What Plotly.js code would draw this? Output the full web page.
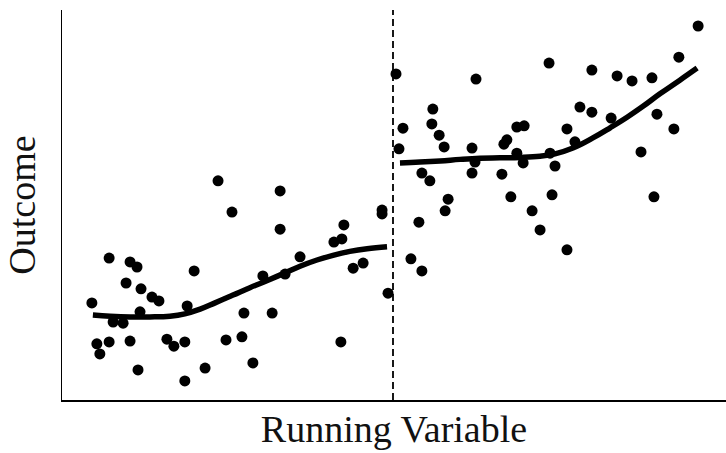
<!DOCTYPE html>
<html>
<head>
<meta charset="utf-8">
<script src="https://cdn.plot.ly/plotly-3.0.1.min.js"></script>
<style>html,body{margin:0;padding:0;background:#fff;}#chart{width:726px;height:453px;}</style>
</head>
<body>
<div id="chart"></div>
<script>
// Observations left of the cutoff
const leftX = [-90.7,-89.2,-88.3,-85.5,-85.5,-84.3,-81.3,-80.4,-79.2,-77.1,-79.2,-76.8,-76.2,-75.9,-72.6,-70.5,-68.1,-66.0,-62.7,-62.7,-62.0,-59.9,-56.6,-52.7,-48.5,-50.3,-45.5,-44.9,-42.2,-39.2,-36.4,-34.0,-34.0,-32.5,-28.0,-17.8,-15.4,-14.8,-15.7,-12.0,-9.0,-3.3,-3.3,-1.5];
const leftY = [24.9,14.4,11.8,36.4,14.9,20.0,19.7,30.0,35.4,34.1,15.1,7.7,22.6,28.5,26.4,25.4,15.6,13.8,14.9,4.9,24.1,33.1,8.2,56.2,48.2,15.4,16.2,22.3,9.5,31.8,22.3,53.6,43.8,32.3,36.7,40.5,41.3,44.9,14.9,33.8,35.1,48.7,47.7,27.4];

// Observations right of the cutoff
const rightX = [0.9,1.8,3.0,5.4,7.8,8.7,8.7,11.1,11.7,12.0,13.9,15.4,15.7,16.6,23.8,23.8,25.0,24.7,32.8,33.4,34.3,35.5,37.3,39.5,37.3,39.2,41.9,44.3,47.0,47.3,47.9,48.8,52.4,52.4,54.8,56.3,59.9,59.9,65.7,67.5,72.0,74.7,78.0,78.6,79.5,84.6,86.1,91.9];
const rightY = [83.6,64.4,69.7,36.2,45.6,33.1,58.2,56.2,70.8,74.6,67.9,64.9,48.5,51.5,64.6,58.2,82.3,61.0,57.9,65.6,66.7,52.1,70.0,70.3,63.3,60.8,48.5,43.6,86.4,63.3,52.6,60.0,38.5,69.5,66.2,75.1,84.6,73.8,72.3,83.1,81.8,63.6,82.6,52.1,73.3,69.5,87.9,95.9];

// Fitted curves
const fitLeftX = [-90.4,-85.2,-79.2,-73.2,-67.2,-62.7,-58.1,-53.6,-48.2,-43.1,-38.0,-32.5,-28.0,-22.9,-18.1,-13.0,-7.8,-1.8];
const fitLeftY = [21.8,21.5,21.3,21.3,21.5,22.1,23.3,24.9,26.9,28.8,30.6,32.6,34.3,35.9,37.1,38.1,38.8,39.3];
const fitRightX = [2.1,8.1,14.2,20.2,26.2,32.2,38.3,44.3,48.8,54.2,60.2,65.4,70.5,75.3,80.4,86.4,91.6];
const fitRightY = [60.8,61.0,61.3,61.7,62.0,62.1,62.2,62.5,63.1,64.6,67.2,69.8,72.5,75.3,78.5,82.0,85.1];

const cutoff = 0;
const xTitle = "Running Variable";
const yTitle = "Outcome";

const pts = {mode:'markers', type:'scatter', marker:{color:'#000', size:11}, hoverinfo:'skip', showlegend:false};
const fit = {mode:'lines', type:'scatter', line:{color:'#000', width:5.5, shape:'spline', smoothing:1.2}, hoverinfo:'skip', showlegend:false};

const data = [
  Object.assign({x:leftX, y:leftY}, pts),
  Object.assign({x:rightX, y:rightY}, pts),
  Object.assign({x:fitLeftX, y:fitLeftY}, fit),
  Object.assign({x:fitRightX, y:fitRightY}, fit)
];

const axisFont = {family:'"Liberation Serif", "DejaVu Serif", serif', size:38, color:'#111'};

const layout = {
  width:726, height:453,
  margin:{l:62, r:0, t:10, b:53},
  paper_bgcolor:'#fff', plot_bgcolor:'#fff',
  xaxis:{range:[-99.7,100.3], showgrid:false, zeroline:false, showticklabels:false, ticks:'',
         showline:true, linecolor:'#000', linewidth:1.5,
         title:{text:xTitle, font:axisFont, standoff:15}},
  yaxis:{range:[0,100], showgrid:false, zeroline:false, showticklabels:false, ticks:'',
         showline:true, linecolor:'#000', linewidth:1.5,
         title:{text:yTitle, font:axisFont, standoff:13}},
  shapes:[{type:'line', xref:'x', yref:'paper', x0:cutoff, x1:cutoff, y0:0, y1:1,
           line:{color:'#000', width:1.8, dash:'7px,4px'}}]
};

Plotly.newPlot('chart', data, layout, {staticPlot:true, displayModeBar:false});
</script>
</body>
</html>
